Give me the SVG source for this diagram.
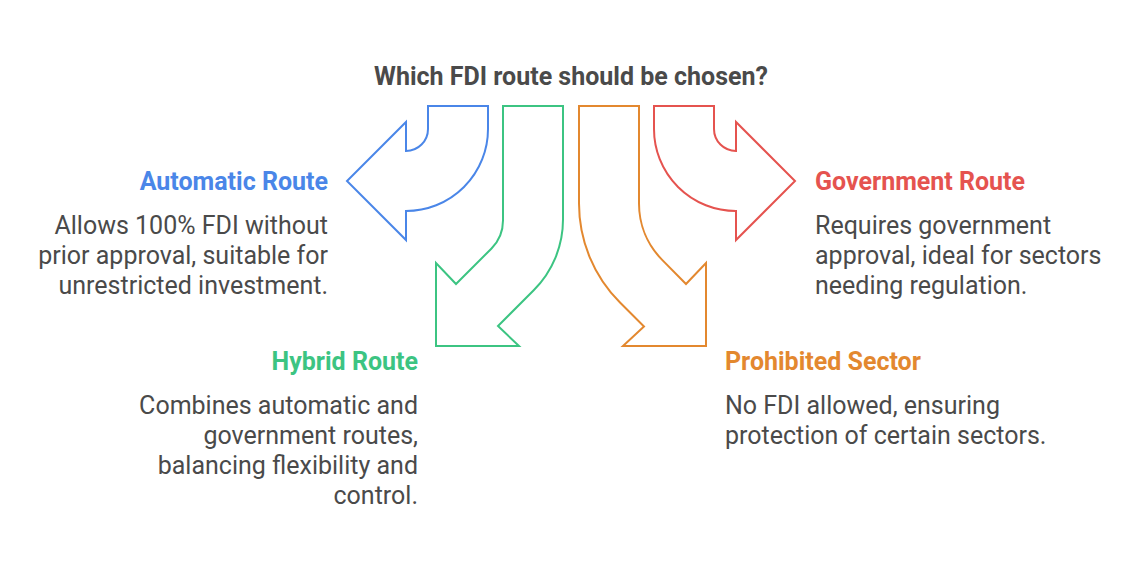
<svg xmlns="http://www.w3.org/2000/svg" width="1143" height="573" viewBox="0 0 1143 573">
<style>
.arr{fill:none;stroke-width:2;stroke-linejoin:miter}
text{font-family:Roboto,"Liberation Sans",sans-serif;font-size:25px}
.h{font-weight:bold}
.b{fill:#4a4a4a}
.t{font-weight:bold;fill:#4a4a4a}
</style>
<rect width="1143" height="573" fill="#ffffff"/>
<text class="t" x="571" y="85" text-anchor="middle">Which FDI route should be chosen?</text>
<g id="connectors">
<path id="arrow-automatic" class="arr" stroke="#4a86e8" d="M428,106 H488 V129 A82,82 0 0 1 406,211 V240 L347,181 L406,122 V151 A22,22 0 0 0 428,129 Z"/>
<path id="arrow-hybrid" class="arr" stroke="#3cc482" d="M503,106 V220.4 A40,40 0 0 1 491.3,248.7 L456,284 L436,263 V346 H519 L498,326 L533.7,290.3 A100,100 0 0 0 563,219.6 V106 Z"/>
<path id="arrow-prohibited" class="arr" stroke="#e3882f" d="M579,106 V203.5 A140,140 0 0 0 620,302.5 L644,326.5 L623,346 H706 V263 L686,284 L662.4,260.1 A80,80 0 0 1 639,203.5 V106 Z"/>
<path id="arrow-government" class="arr" stroke="#e5534f" d="M714,106 H654 V129 A82,82 0 0 0 736,211 V240 L795,181 L736,122 V151 A22,22 0 0 1 714,129 Z"/>
</g>
<g id="automatic" text-anchor="end">
<text class="h" x="328" y="190" fill="#4a86e8">Automatic Route</text>
<text class="b" x="328" y="234">Allows 100% FDI without</text>
<text class="b" x="328" y="264">prior approval, suitable for</text>
<text class="b" x="328" y="294">unrestricted investment.</text>
</g>
<g id="government">
<text class="h" x="815" y="190" fill="#e5534f">Government Route</text>
<text class="b" x="815" y="234">Requires government</text>
<text class="b" x="815" y="264">approval, ideal for sectors</text>
<text class="b" x="815" y="294">needing regulation.</text>
</g>
<g id="hybrid" text-anchor="end">
<text class="h" x="418" y="370" fill="#3cc482">Hybrid Route</text>
<text class="b" x="418" y="414">Combines automatic and</text>
<text class="b" x="418" y="444">government routes,</text>
<text class="b" x="418" y="474">balancing flexibility and</text>
<text class="b" x="418" y="504">control.</text>
</g>
<g id="prohibited">
<text class="h" x="725" y="370" fill="#e3882f">Prohibited Sector</text>
<text class="b" x="725" y="414">No FDI allowed, ensuring</text>
<text class="b" x="725" y="444">protection of certain sectors.</text>
</g>
</svg>
